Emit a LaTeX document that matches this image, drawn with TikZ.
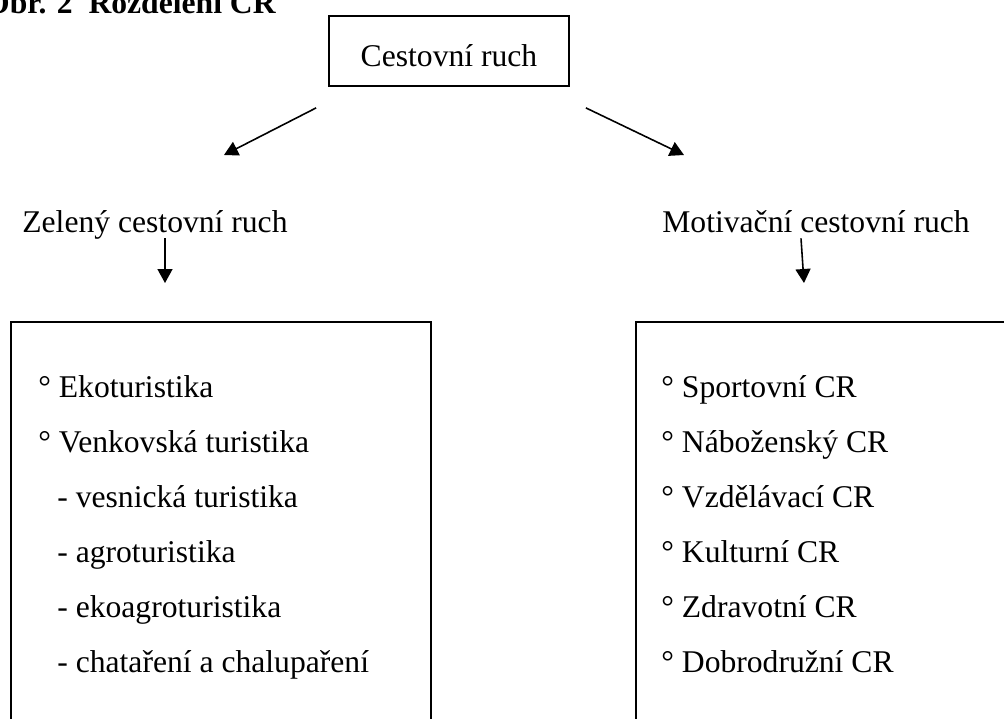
\documentclass[tikz,border=0pt]{standalone}
\usepackage{fontspec}
\setmainfont{Liberation Serif}
\usepackage{tikz}
\usetikzlibrary{
    arrows.meta,
    positioning
}

\begin{document}
\begin{tikzpicture}[
        x=0.02cm, y=-0.02cm,
        font=\fontsize{18}{22}\selectfont,
        box/.style={draw, line width=1pt, inner sep=0pt},
        heading/.style={anchor=base west, inner sep=0pt, text depth=0.12cm},
        item/.style={anchor=base west, inner sep=0pt},
        arrow/.style={-{Triangle[length=0.28cm, width=0.3cm]}, line width=0.9pt}
    ]
        \useasboundingbox (0,0) rectangle (1004,718);
        \clip (0,0) rectangle (1004,718);

        % Title (cut off at the page edge)
        \node[anchor=base east, inner sep=0pt, font=\fontsize{18}{22}\selectfont\bfseries] (title) at (276, 13) {Obr. 2~~Rozdělení CR};

        % Top box
        \node[box, minimum width=4.8cm, minimum height=1.4cm, text height=0.6cm, text depth=0pt] (root) at (449, 51) {Cestovní ruch};

        % Second level
        \node[heading] (zeleny) at (22, 232) {Zelený cestovní ruch};
        \node[heading] (motiv) at (662, 232) {Motivační cestovní ruch};

        % Lower boxes
        \node[box, anchor=north west, minimum width=8.4cm, minimum height=9cm] (zbox) at (10, 321) {};
        \node[box, anchor=north west, minimum width=8cm, minimum height=9cm] (mbox) at (635, 321) {};

        % Items - Zelený
        \node[item] (z1) at (38, 397) {° Ekoturistika};
        \node[item] (z2) at (38, 452) {° Venkovská turistika};
        \node[item] (z3) at (57, 507) {- vesnická turistika};
        \node[item] (z4) at (57, 562) {- agroturistika};
        \node[item] (z5) at (57, 617) {- ekoagroturistika};
        \node[item] (z6) at (57, 672) {- chataření a chalupaření};

        % Items - Motivační
        \node[item] (m1) at (661, 397) {° Sportovní CR};
        \node[item] (m2) at (661, 452) {° Náboženský CR};
        \node[item] (m3) at (661, 507) {° Vzdělávací CR};
        \node[item] (m4) at (661, 562) {° Kulturní CR};
        \node[item] (m5) at (661, 617) {° Zdravotní CR};
        \node[item] (m6) at (661, 672) {° Dobrodružní CR};

        % Arrow tips
        \coordinate (ltip) at (224, 155);
        \coordinate (rtip) at (684, 155);
        \coordinate (ztip) at (165, 283);
        \coordinate (mtip) at (804, 283);

        % Arrows
        \draw[arrow] ([shift={(-12,21)}]root.south west) -- (ltip);
        \draw[arrow] ([shift={(16,21)}]root.south east) -- (rtip);
        \draw[arrow] (zeleny.south -| ztip) -- (ztip);
        \draw[arrow] ([xshift=-0.06cm]motiv.south -| mtip) -- (mtip);
    \end{tikzpicture}
\end{document}
